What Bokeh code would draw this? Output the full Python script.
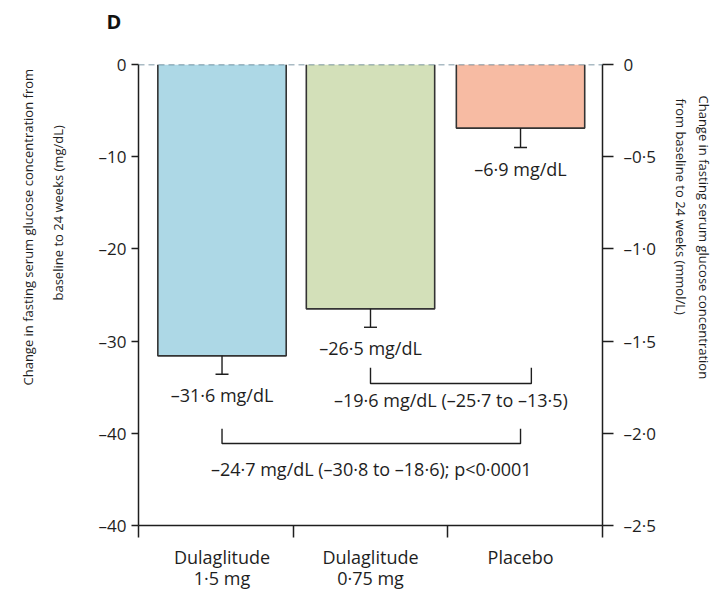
import numpy as np
from bokeh.plotting import figure
from bokeh.models import Range1d, LinearAxis, FixedTicker, Span, Title
from bokeh.core.properties import value
from bokeh.embed import file_html
from bokeh.resources import INLINE

# ---------------- data ----------------
groups = ["Dulaglitude\n1·5 mg", "Dulaglitude\n0·75 mg", "Placebo"]
change_mgdl = [-31.6, -26.5, -6.9]
se_mgdl = [2.0, 2.0, 2.1]
value_labels = ["–31·6 mg/dL", "–26·5 mg/dL", "–6·9 mg/dL"]
bar_colors = ["#ADD8E6", "#D3E0B9", "#F7BBA3"]
comparison_pairs = [(1, 2), (0, 2)]
comparison_labels = ["–19·6 mg/dL (–25·7 to –13·5)",
                     "–24·7 mg/dL (–30·8 to –18·6); p<0·0001"]
left_ticks = [0, -10, -20, -30, -40, -50]
left_tick_labels = ["0", "–10", "–20", "–30", "–40", "–40"]
right_ticks = [0, -0.5, -1.0, -1.5, -2.0, -2.5]
right_tick_labels = ["0", "–0·5", "–1·0", "–1·5", "–2·0", "–2·5"]
left_title = ["Change in fasting serum glucose concentration from",
              "baseline to 24 weeks (mg/dL)"]
right_title = ["Change in fasting serum glucose concentration",
               "from baseline to 24 weeks (mmol/L)"]
panel_letter = "D"

# ---------------- style ----------------
FONT = "Open Sans"
INK = "#1e1e1e"
bar_shift = [0.04, 0.0, -0.03]
bar_w = 0.83

means = np.array(change_mgdl)
ses = np.array(se_mgdl)
centers = [round(float(v), 2) for v in np.arange(len(groups)) + 0.5 + np.array(bar_shift)]
cx = np.array(centers)

p = figure(width=714, height=593, x_range=Range1d(0, 3), y_range=Range1d(-50, 0),
           output_backend="svg", toolbar_location=None,
           min_border_left=138, min_border_right=111,
           min_border_top=64, min_border_bottom=68)
p.outline_line_color = None
p.xgrid.visible = False
p.ygrid.visible = False
p.background_fill_color = "white"
p.border_fill_color = "white"

# panel letter (outermost title) with a blank spacer title below it
p.title.text = panel_letter
p.title.align = "left"
p.title.offset = -32
p.title.standoff = 4
p.title.text_font = FONT
p.title.text_font_size = "20px"
p.title.text_font_style = "bold"
p.title.text_color = "#111111"
p.add_layout(Title(text=" ", text_font_size="8px", standoff=16.5), "above")

# bars (fill) + three-sided outline
p.vbar(x=cx, top=0, bottom=means, width=bar_w, fill_color=bar_colors, line_color=None)
xs = [[c - bar_w / 2, c - bar_w / 2, c + bar_w / 2, c + bar_w / 2] for c in cx]
ys = [[0, m, m, 0] for m in means]
p.multi_line(xs=xs, ys=ys, line_color="#333333", line_width=1.6)

# error bars (downward only)
p.segment(x0=cx, y0=means, x1=cx, y1=means - ses, line_color=INK, line_width=1.4)
cap = 0.042
p.segment(x0=cx - cap, y0=means - ses, x1=cx + cap, y1=means - ses, line_color=INK, line_width=1.4)

# value labels
p.text(x=cx, y=means - ses - 2.3, text=value_labels, text_align="center",
       text_baseline="middle", text_font=value(FONT), text_font_size="18px", text_color=INK)

# comparison brackets
bracket_levels = [(-32.9, -34.6, -36.4, 0.07), (-39.5, -41.1, -43.9, 0.0)]
for (i, j), lab, (top, bot, ly, extra) in zip(comparison_pairs, comparison_labels, bracket_levels):
    x0, x1 = cx[i], cx[j] + extra
    p.line(x=[x0, x0, x1, x1], y=[top, bot, bot, top], line_color=INK, line_width=1.4)
    p.text(x=[(x0 + x1) / 2], y=[ly], text=[lab], text_align="center",
           text_baseline="middle", text_font=value(FONT), text_font_size="18px", text_color=INK)

# zero reference line
p.add_layout(Span(location=0, dimension="width", line_color="#56788a",
                  line_dash="6 4", line_width=1.3))

# x axis
xa = p.xaxis[0]
xa.ticker = FixedTicker(ticks=centers, minor_ticks=[0, 1, 2, 3])
xa.major_label_overrides = {c: g for c, g in zip(centers, groups)}
xa.major_tick_line_color = None
xa.major_tick_out = 0
xa.minor_tick_out = 12
xa.minor_tick_in = 0
xa.minor_tick_line_color = INK
xa.minor_tick_line_width = 1.5
xa.axis_line_color = INK
xa.axis_line_width = 1.5
xa.major_label_standoff = 7
xa.major_label_text_font = FONT
xa.major_label_text_font_size = "18px"
xa.major_label_text_line_height = 0.9
xa.major_label_text_color = INK

# left axis
ya = p.yaxis[0]
ya.ticker = FixedTicker(ticks=left_ticks)
ya.major_label_overrides = {t: s for t, s in zip(left_ticks, left_tick_labels)}
ya.major_tick_out = 7
ya.major_tick_in = 0
ya.minor_tick_line_color = None
ya.major_tick_line_color = INK
ya.major_tick_line_width = 1.5
ya.axis_line_color = INK
ya.axis_line_width = 1.5
ya.major_label_standoff = 5
ya.major_label_text_font = FONT
ya.major_label_text_font_size = "17px"
ya.major_label_text_color = INK

# right axis (mmol/L)
p.extra_y_ranges = {"mmol": Range1d(-2.5, 0)}
ra = LinearAxis(y_range_name="mmol", ticker=FixedTicker(ticks=right_ticks),
                major_label_overrides={t: s for t, s in zip(right_ticks, right_tick_labels)})
ra.major_tick_out = 11
ra.major_tick_in = 0
ra.minor_tick_line_color = None
ra.major_tick_line_color = INK
ra.major_tick_line_width = 1.5
ra.axis_line_color = INK
ra.axis_line_width = 1.5
ra.major_label_standoff = 10
ra.major_label_text_font = FONT
ra.major_label_text_font_size = "17px"
ra.major_label_text_color = INK
p.add_layout(ra, "right")

# axis titles (stacked outward from the axes; blank titles are spacers)
def side_title(text, align, offset, standoff, size="13px"):
    return Title(text=text, align=align, offset=offset, standoff=standoff,
                 text_font=FONT, text_font_size=size, text_font_style="normal",
                 text_color=INK)

p.add_layout(side_title(" ", "left", 0, 9.8, "8px"), "left")
p.add_layout(side_title(left_title[1], "left", 225, 10.2), "left")
p.add_layout(side_title(left_title[0], "left", 140, 10.2), "left")

p.add_layout(side_title(" ", "left", 0, 1, "6px"), "right")
p.add_layout(side_title(right_title[1], "left", 34, 5), "right")
p.add_layout(side_title(right_title[0], "left", 31, 0), "right")

open("out.html", "w").write(file_html(p, INLINE))
